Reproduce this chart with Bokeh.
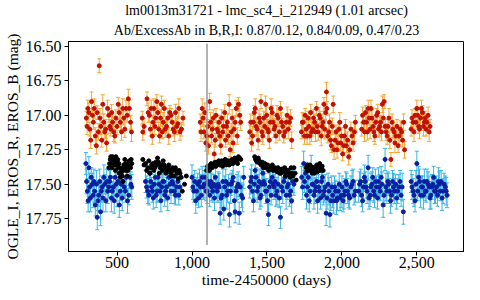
from bokeh.plotting import figure
from bokeh.models import (ColumnDataSource, Whisker, TeeHead, Range1d, FixedTicker,
                          NumeralTickFormatter, Title)
from bokeh.embed import file_html
from bokeh.resources import INLINE

title_line1 = "lm0013m31721 - lmc_sc4_i_212949 (1.01 arcsec)"
title_line2 = "Ab/ExcessAb in B,R,I: 0.87/0.12, 0.84/0.09, 0.47/0.23"
x_label = "time-2450000 (days)"
y_label = "OGLE_I, EROS_R, EROS_B (mag)"
x_ticks = [500, 1000, 1500, 2000, 2500]
y_ticks = [16.50, 16.75, 17.00, 17.25, 17.50, 17.75]
event_day = [1100, 1100]
event_mag = [16.48, 17.94]

# EROS_R (red points, orange error bars)
r_day = [295, 305, 318, 330, 342, 355, 368, 381, 392, 405, 418, 430, 445, 458, 470, 485, 500, 515, 530, 545, 560, 575, 590,
         668, 672, 700, 715, 728, 740, 752, 765, 778, 790, 802, 815, 830, 845, 860, 875, 890, 905, 920, 940,
         1055, 1068, 1080, 1092, 1105, 1118, 1130, 1142, 1155, 1168, 1180, 1192, 1205, 1218, 1230, 1242, 1255, 1268, 1280, 1295, 1310, 1325,
         1385, 1398, 1410, 1422, 1435, 1448, 1460, 1472, 1485, 1498, 1510, 1522, 1535, 1548, 1560, 1575, 1590, 1605, 1620, 1635, 1650, 1665,
         1730, 1742, 1755, 1768, 1780, 1792, 1805, 1818, 1830, 1842, 1855, 1868, 1880, 1892, 1897, 1905, 1918, 1930, 1942, 1955, 1968, 1980, 1992, 2005, 2018, 2030, 2045, 2060, 2075, 2090,
         2132, 2145, 2158, 2170, 2182, 2195, 2208, 2220, 2232, 2245, 2258, 2270, 2282, 2295, 2308, 2320, 2327, 2335, 2348, 2360, 2375, 2390, 2405, 2418,
         2462, 2475, 2488, 2500, 2512, 2525, 2538, 2550, 2562, 2575, 2588,
         300, 312, 324, 336, 348, 362, 375, 386, 398, 411, 424, 437, 452, 464, 478, 492, 508, 522, 538, 552, 568, 582, 596,
         680, 708, 722, 735, 746, 758, 772, 784, 796, 808, 822, 838, 852, 868, 882, 898, 912, 930,
         1060, 1074, 1086, 1098, 1110, 1124, 1136, 1148, 1160, 1174, 1186, 1198, 1210, 1224, 1236, 1248, 1262, 1274, 1288, 1302, 1318,
         1392, 1404, 1416, 1428, 1441, 1454, 1466, 1478, 1491, 1504, 1516, 1528, 1541, 1554, 1567, 1582, 1597, 1612, 1628, 1642, 1658,
         1736, 1750, 1762, 1775, 1786, 1798, 1811, 1824, 1836, 1849, 1862, 1874, 1886, 1900, 1912, 1924, 1936, 1948, 1961, 1974, 1986, 1998, 2012, 2024, 2038, 2052, 2068, 2084,
         2138, 2151, 2164, 2176, 2188, 2201, 2214, 2226, 2239, 2252, 2264, 2276, 2289, 2302, 2314, 2340, 2354, 2368, 2382, 2398, 2412,
         2468, 2481, 2494, 2506, 2518, 2531, 2544, 2556, 2568, 2582]
r_mag = [17.02, 16.95, 17.10, 16.90, 17.05, 17.15, 16.98, 16.64, 17.08, 16.92, 17.12, 17.20, 17.00, 17.10, 17.05, 17.15, 17.08, 16.98, 17.12, 17.02, 16.95, 16.88, 17.05,
         17.02, 17.12, 16.88, 17.00, 16.95, 17.05, 17.08, 16.90, 17.10, 17.02, 17.12, 16.95, 17.08, 17.15, 17.00, 17.10, 16.98, 17.06, 17.12, 17.02,
         17.05, 16.95, 17.12, 17.20, 17.08, 16.90, 17.15, 17.02, 17.18, 17.10, 17.05, 17.22, 17.12, 16.98, 17.08, 17.15, 17.25, 17.02, 17.10, 16.95, 16.92, 17.05,
         17.12, 17.20, 17.05, 16.95, 17.10, 17.02, 16.90, 17.15, 17.08, 17.00, 17.12, 17.05, 16.98, 17.10, 17.15, 17.02, 16.95, 17.08, 17.12, 17.00, 17.05, 17.18,
         17.12, 17.05, 17.00, 17.15, 17.08, 16.98, 17.10, 17.05, 16.95, 17.12, 17.02, 17.08, 16.92, 16.98, 16.83, 17.15, 17.05, 17.22, 16.92, 17.18, 17.25, 17.10, 17.20, 17.28, 17.15, 17.22, 17.30, 17.10, 17.20, 17.05,
         17.10, 17.05, 16.98, 17.12, 17.02, 16.95, 17.08, 17.15, 17.00, 17.10, 17.05, 16.92, 16.90, 17.12, 17.08, 17.18, 17.32, 17.05, 17.12, 17.15, 17.22, 17.10, 17.18, 17.25,
         17.10, 17.05, 17.00, 16.95, 17.08, 17.02, 16.98, 17.05, 17.10, 17.00, 17.08,
         17.08, 16.98, 17.18, 17.00, 16.95, 17.22, 17.12, 17.02, 17.18, 17.05, 17.10, 16.95, 17.08, 16.98, 17.12, 17.02, 16.92, 17.05, 16.95, 17.10, 17.00, 16.95, 17.12,
         17.08, 16.98, 17.10, 17.15, 16.95, 17.02, 16.98, 17.15, 16.92, 17.05, 17.10, 17.02, 16.98, 17.05, 17.12, 17.08, 16.95, 17.10,
         17.12, 17.02, 16.98, 17.15, 17.22, 17.05, 17.10, 17.28, 17.00, 17.12, 17.15, 17.02, 17.08, 17.18, 17.05, 16.92, 17.12, 17.20, 17.05, 17.15, 17.00,
         17.05, 17.15, 16.98, 17.08, 17.18, 17.05, 17.12, 17.02, 16.92, 17.10, 17.18, 16.95, 17.05, 17.08, 17.00, 17.12, 17.05, 17.15, 17.05, 17.10, 17.02,
         17.05, 17.15, 17.10, 17.02, 17.15, 17.12, 17.02, 17.12, 17.08, 17.00, 17.15, 17.05, 17.10, 16.95, 17.12, 17.18, 17.08, 17.25, 17.12, 17.20, 17.05, 17.15, 17.22, 17.08, 17.18, 17.25, 17.15, 17.12,
         17.00, 17.12, 17.05, 16.95, 17.10, 17.02, 17.12, 17.05, 16.98, 17.08, 17.12, 17.02, 17.08, 17.15, 17.02, 17.10, 17.20, 17.08, 17.15, 17.12, 17.05,
         17.02, 17.12, 17.05, 17.00, 17.10, 16.95, 17.08, 17.02, 17.05, 17.12]
r_err = [0.05, 0.06, 0.05, 0.07, 0.05, 0.06, 0.05, 0.05, 0.06, 0.07, 0.05, 0.06, 0.05, 0.05, 0.06, 0.05, 0.06, 0.05, 0.06, 0.05, 0.06, 0.07, 0.05,
         0.05, 0.06, 0.05, 0.05, 0.06, 0.05, 0.06, 0.05, 0.05, 0.06, 0.05, 0.06, 0.05, 0.06, 0.05, 0.05, 0.06, 0.05, 0.06, 0.05,
         0.06, 0.07, 0.05, 0.06, 0.05, 0.06, 0.05, 0.06, 0.05, 0.06, 0.05, 0.06, 0.05, 0.06, 0.05, 0.06, 0.05, 0.06, 0.05, 0.06, 0.05, 0.06,
         0.05, 0.06, 0.05, 0.07, 0.05, 0.06, 0.05, 0.06, 0.05, 0.06, 0.05, 0.06, 0.05, 0.06, 0.05, 0.06, 0.05, 0.06, 0.05, 0.06, 0.05, 0.06,
         0.05, 0.06, 0.05, 0.06, 0.05, 0.06, 0.05, 0.06, 0.05, 0.06, 0.05, 0.06, 0.05, 0.06, 0.07, 0.05, 0.06, 0.05, 0.06, 0.05, 0.06, 0.05, 0.06, 0.05, 0.06, 0.05, 0.06, 0.05, 0.06, 0.05,
         0.05, 0.06, 0.05, 0.06, 0.05, 0.06, 0.05, 0.06, 0.05, 0.06, 0.05, 0.06, 0.05, 0.06, 0.05, 0.06, 0.05, 0.06, 0.05, 0.06, 0.05, 0.06, 0.05, 0.06,
         0.05, 0.06, 0.05, 0.06, 0.05, 0.06, 0.05, 0.06, 0.05, 0.06, 0.05,
         0.06, 0.07, 0.06, 0.05, 0.07, 0.06, 0.06, 0.07, 0.05, 0.06, 0.07, 0.06, 0.05, 0.06, 0.07, 0.06, 0.05, 0.06, 0.07, 0.06, 0.05, 0.06, 0.07,
         0.06, 0.07, 0.05, 0.06, 0.07, 0.06, 0.07, 0.05, 0.06, 0.07, 0.06, 0.07, 0.05, 0.06, 0.07, 0.06, 0.07, 0.05,
         0.07, 0.06, 0.07, 0.05, 0.06, 0.07, 0.06, 0.07, 0.05, 0.06, 0.07, 0.06, 0.07, 0.05, 0.06, 0.07, 0.06, 0.07, 0.05, 0.06, 0.07,
         0.06, 0.07, 0.05, 0.06, 0.07, 0.06, 0.07, 0.05, 0.06, 0.07, 0.06, 0.07, 0.05, 0.06, 0.07, 0.06, 0.07, 0.05, 0.06, 0.07, 0.06,
         0.07, 0.06, 0.07, 0.05, 0.06, 0.07, 0.06, 0.07, 0.05, 0.06, 0.07, 0.06, 0.07, 0.05, 0.06, 0.07, 0.06, 0.07, 0.05, 0.06, 0.07, 0.06, 0.07, 0.05, 0.06, 0.07, 0.06, 0.07,
         0.06, 0.07, 0.05, 0.06, 0.07, 0.06, 0.07, 0.05, 0.06, 0.07, 0.06, 0.07, 0.05, 0.06, 0.07, 0.06, 0.07, 0.05, 0.06, 0.07, 0.06,
         0.06, 0.07, 0.05, 0.06, 0.07, 0.06, 0.07, 0.05, 0.06, 0.07]

# EROS_B (dark blue points, light blue error bars)
b_day = [292, 302, 312, 322, 335, 345, 355, 368, 378, 390, 400, 412, 425, 438, 450, 462, 475, 488, 500, 515, 528, 540, 555, 570, 585, 598,
         690, 705, 718, 730, 742, 755, 768, 780, 792, 805, 818, 830, 845, 860, 875, 890, 905, 920,
         1000, 1012, 1025, 1038, 1050, 1062, 1075, 1088, 1100, 1112, 1125, 1138, 1150, 1162, 1175, 1188, 1200, 1212, 1225, 1238, 1250, 1262, 1275, 1288, 1300, 1315, 1330, 1345,
         1385, 1398, 1410, 1422, 1435, 1448, 1460, 1472, 1485, 1498, 1510, 1522, 1535, 1548, 1560, 1575, 1590, 1605, 1620, 1635, 1650, 1665, 1680,
         1732, 1745, 1758, 1770, 1782, 1795, 1808, 1820, 1832, 1845, 1858, 1870, 1882, 1895, 1908, 1920, 1932, 1945, 1958, 1970, 1982, 1995, 2008, 2020, 2032, 2045, 2060, 2075, 2090,
         2112, 2125, 2138, 2150, 2162, 2175, 2188, 2200, 2212, 2225, 2238, 2250, 2262, 2275, 2288, 2300, 2312, 2325, 2338, 2350, 2365, 2380, 2395, 2410,
         2462, 2475, 2488, 2500, 2512, 2525, 2538, 2550, 2562, 2575, 2588, 2600, 2612, 2625, 2638, 2650, 2662, 2675, 2690, 2702,
         297, 307, 317, 328, 340, 350, 362, 373, 384, 395, 406, 418, 431, 444, 456, 468, 481, 494, 507, 521, 534, 548, 562, 578, 592,
         697, 712, 724, 736, 748, 761, 774, 786, 798, 812, 824, 838, 852, 868, 882, 898, 912,
         1006, 1018, 1031, 1044, 1056, 1068, 1081, 1094, 1106, 1118, 1131, 1144, 1156, 1168, 1181, 1194, 1206, 1218, 1231, 1244, 1256, 1269, 1282, 1294, 1308, 1322, 1338,
         1392, 1404, 1416, 1428, 1441, 1454, 1466, 1478, 1491, 1504, 1516, 1528, 1541, 1554, 1567, 1582, 1597, 1612, 1628, 1642, 1658, 1672,
         1738, 1751, 1764, 1776, 1788, 1801, 1814, 1826, 1838, 1851, 1864, 1876, 1888, 1901, 1914, 1926, 1938, 1951, 1964, 1976, 1988, 2001, 2014, 2026, 2038, 2052, 2068, 2082,
         2118, 2131, 2144, 2156, 2168, 2181, 2194, 2206, 2218, 2231, 2244, 2256, 2268, 2281, 2294, 2306, 2318, 2331, 2344, 2358, 2372, 2388, 2402,
         2468, 2481, 2494, 2506, 2518, 2531, 2544, 2556, 2568, 2582, 2594, 2606, 2618, 2631, 2644, 2656, 2668, 2682, 2696]
b_mag = [17.35, 17.55, 17.38, 17.60, 17.50, 17.48, 17.65, 17.74, 17.58, 17.70, 17.52, 17.45, 17.62, 17.55, 17.48, 17.60, 17.52, 17.45, 17.58, 17.65, 17.50, 17.48, 17.55, 17.62, 17.45, 17.52,
         17.48, 17.55, 17.42, 17.52, 17.60, 17.45, 17.55, 17.50, 17.62, 17.48, 17.58, 17.52, 17.45, 17.55, 17.50, 17.58, 17.48, 17.52,
         17.45, 17.55, 17.62, 17.50, 17.48, 17.58, 17.52, 17.45, 17.55, 17.50, 17.48, 17.55, 17.60, 17.52, 17.50, 17.71, 17.58, 17.68, 17.48, 17.55, 17.72, 17.50, 17.45, 17.70, 17.52, 17.71, 17.58, 17.45,
         17.52, 17.45, 17.62, 17.40, 17.55, 17.48, 17.58, 17.42, 17.50, 17.55, 17.72, 17.48, 17.45, 17.52, 17.58, 17.50, 17.74, 17.55, 17.45, 17.52, 17.58, 17.62, 17.50,
         17.45, 17.35, 17.42, 17.52, 17.62, 17.38, 17.50, 17.55, 17.48, 17.52, 17.60, 17.45, 17.55, 17.71, 17.50, 17.72, 17.52, 17.62, 17.55, 17.60, 17.50, 17.58, 17.62, 17.55, 17.50, 17.58, 17.52, 17.48, 17.55,
         17.55, 17.48, 17.62, 17.45, 17.52, 17.38, 17.58, 17.50, 17.55, 17.48, 17.60, 17.52, 17.45, 17.65, 17.32, 17.55, 17.50, 17.62, 17.48, 17.55, 17.60, 17.52, 17.58, 17.70,
         17.48, 17.55, 17.62, 17.35, 17.45, 17.58, 17.52, 17.48, 17.55, 17.50, 17.60, 17.52, 17.45, 17.55, 17.58, 17.50, 17.48, 17.55, 17.52, 17.58,
         17.48, 17.62, 17.52, 17.45, 17.58, 17.55, 17.50, 17.62, 17.48, 17.55, 17.60, 17.50, 17.48, 17.52, 17.45, 17.55, 17.62, 17.50, 17.48, 17.55, 17.60, 17.52, 17.45, 17.58, 17.50,
         17.52, 17.58, 17.48, 17.55, 17.50, 17.58, 17.45, 17.55, 17.52, 17.48, 17.55, 17.60, 17.50, 17.48, 17.55, 17.52, 17.58,
         17.52, 17.48, 17.55, 17.60, 17.52, 17.45, 17.50, 17.55, 17.48, 17.58, 17.52, 17.50, 17.45, 17.55, 17.52, 17.60, 17.48, 17.52, 17.58, 17.50, 17.55, 17.48, 17.62, 17.55, 17.50, 17.52, 17.60,
         17.48, 17.55, 17.50, 17.45, 17.52, 17.60, 17.50, 17.48, 17.55, 17.62, 17.52, 17.58, 17.50, 17.48, 17.55, 17.60, 17.52, 17.48, 17.58, 17.50, 17.55, 17.48,
         17.52, 17.48, 17.58, 17.45, 17.55, 17.50, 17.58, 17.52, 17.62, 17.55, 17.48, 17.58, 17.52, 17.60, 17.55, 17.62, 17.58, 17.52, 17.62, 17.55, 17.60, 17.52, 17.58, 17.48, 17.55, 17.60, 17.50, 17.58,
         17.50, 17.58, 17.52, 17.48, 17.55, 17.60, 17.52, 17.45, 17.58, 17.52, 17.48, 17.55, 17.50, 17.58, 17.52, 17.48, 17.55, 17.58, 17.52, 17.50, 17.55, 17.48, 17.52,
         17.52, 17.58, 17.50, 17.55, 17.48, 17.52, 17.58, 17.55, 17.48, 17.52, 17.58, 17.50, 17.55, 17.52, 17.48, 17.55, 17.60, 17.50, 17.55]
b_err = [0.08, 0.09, 0.08, 0.10, 0.08, 0.09, 0.08, 0.09, 0.08, 0.10, 0.08, 0.09, 0.08, 0.09, 0.08, 0.10, 0.08, 0.09, 0.08, 0.09, 0.08, 0.10, 0.08, 0.09, 0.08, 0.09,
         0.08, 0.09, 0.08, 0.07, 0.08, 0.09, 0.08, 0.07, 0.08, 0.09, 0.08, 0.07, 0.08, 0.09, 0.08, 0.07, 0.08, 0.09,
         0.09, 0.08, 0.09, 0.08, 0.09, 0.08, 0.09, 0.08, 0.09, 0.08, 0.09, 0.08, 0.09, 0.08, 0.09, 0.08, 0.09, 0.08, 0.09, 0.08, 0.09, 0.08, 0.09, 0.08, 0.09, 0.08, 0.09, 0.08,
         0.08, 0.09, 0.08, 0.09, 0.08, 0.09, 0.08, 0.09, 0.08, 0.09, 0.08, 0.09, 0.08, 0.09, 0.08, 0.09, 0.08, 0.09, 0.08, 0.09, 0.08, 0.09, 0.08,
         0.08, 0.09, 0.08, 0.09, 0.08, 0.09, 0.08, 0.09, 0.08, 0.09, 0.08, 0.09, 0.08, 0.09, 0.08, 0.09, 0.08, 0.09, 0.08, 0.09, 0.08, 0.09, 0.08, 0.09, 0.08, 0.09, 0.08, 0.09, 0.08,
         0.08, 0.09, 0.08, 0.09, 0.08, 0.09, 0.08, 0.09, 0.08, 0.09, 0.08, 0.09, 0.08, 0.09, 0.08, 0.09, 0.08, 0.09, 0.08, 0.09, 0.08, 0.09, 0.08, 0.09,
         0.08, 0.09, 0.08, 0.09, 0.08, 0.09, 0.08, 0.09, 0.08, 0.09, 0.08, 0.09, 0.08, 0.09, 0.08, 0.09, 0.08, 0.09, 0.08, 0.09,
         0.09, 0.08, 0.10, 0.07, 0.09, 0.08, 0.10, 0.07, 0.09, 0.08, 0.10, 0.07, 0.09, 0.08, 0.10, 0.07, 0.09, 0.08, 0.10, 0.07, 0.09, 0.08, 0.10, 0.07, 0.09,
         0.08, 0.07, 0.09, 0.08, 0.07, 0.09, 0.08, 0.07, 0.09, 0.08, 0.07, 0.09, 0.08, 0.07, 0.09, 0.08, 0.07,
         0.09, 0.08, 0.10, 0.07, 0.09, 0.08, 0.10, 0.07, 0.09, 0.08, 0.10, 0.07, 0.09, 0.08, 0.10, 0.07, 0.09, 0.08, 0.10, 0.07, 0.09, 0.08, 0.10, 0.07, 0.09, 0.08, 0.10,
         0.09, 0.08, 0.10, 0.07, 0.09, 0.08, 0.10, 0.07, 0.09, 0.08, 0.10, 0.07, 0.09, 0.08, 0.10, 0.07, 0.09, 0.08, 0.10, 0.07, 0.09, 0.08,
         0.09, 0.08, 0.10, 0.07, 0.09, 0.08, 0.10, 0.07, 0.09, 0.08, 0.10, 0.07, 0.09, 0.08, 0.10, 0.07, 0.09, 0.08, 0.10, 0.07, 0.09, 0.08, 0.10, 0.07, 0.09, 0.08, 0.10, 0.07,
         0.09, 0.08, 0.10, 0.07, 0.09, 0.08, 0.10, 0.07, 0.09, 0.08, 0.10, 0.07, 0.09, 0.08, 0.10, 0.07, 0.09, 0.08, 0.10, 0.07, 0.09, 0.08, 0.10,
         0.09, 0.08, 0.10, 0.07, 0.09, 0.08, 0.10, 0.07, 0.09, 0.08, 0.10, 0.07, 0.09, 0.08, 0.10, 0.07, 0.09, 0.08, 0.10]

# OGLE_I (black points)
i_day = [445, 455, 462, 470, 478, 485, 492, 500, 508, 515, 522, 530, 538, 545, 552, 560, 568, 575, 582, 590, 598,
         672, 690, 705, 720, 732, 745, 758, 770, 782, 795, 808, 820, 832, 845, 858, 870, 882, 895, 908, 920, 935, 950, 962,
         1098, 1110, 1122, 1135, 1148, 1160, 1172, 1185, 1198, 1210, 1222, 1235, 1248, 1260, 1272, 1285, 1298, 1310, 1325,
         1418, 1430, 1442, 1455, 1468, 1480, 1492, 1505, 1518, 1530, 1542, 1555, 1568, 1580, 1592, 1605, 1618, 1630, 1642, 1655, 1668, 1680, 1695,
         1762, 1772, 1782, 1792, 1802, 1812, 1822, 1832, 1842, 1852, 1862, 1875,
         450, 458, 466, 474, 482, 489, 496, 504, 512, 519, 526, 534, 542, 549, 556, 564, 572, 579, 586, 594,
         680, 698, 712, 726, 739, 752, 764, 776, 789, 802, 814, 826, 839, 852, 864, 876, 889, 902, 914, 928,
         1104, 1116, 1128, 1141, 1154, 1166, 1178, 1191, 1204, 1216, 1228, 1241, 1254, 1266, 1278, 1291, 1304, 1318,
         1424, 1436, 1448, 1461, 1474, 1486, 1498, 1511, 1524, 1536, 1548, 1561, 1574, 1586, 1598, 1611, 1624, 1636, 1648, 1661, 1674, 1688,
         1767, 1777, 1787, 1797, 1807, 1817, 1827, 1837, 1847, 1857, 1868]
i_mag = [17.38, 17.32, 17.35, 17.30, 17.33, 17.36, 17.30, 17.34, 17.38, 17.42, 17.45, 17.40, 17.48, 17.36, 17.32, 17.40, 17.44, 17.36, 17.33, 17.38, 17.35,
         17.32, 17.35, 17.38, 17.42, 17.36, 17.40, 17.34, 17.31, 17.42, 17.36, 17.33, 17.38, 17.40, 17.36, 17.42, 17.38, 17.44, 17.40, 17.46, 17.42, 17.55, 17.50, 17.44,
         17.40, 17.38, 17.36, 17.38, 17.35, 17.37, 17.34, 17.36, 17.33, 17.35, 17.32, 17.34, 17.36, 17.33, 17.35, 17.31, 17.33, 17.30, 17.32,
         17.30, 17.33, 17.31, 17.35, 17.34, 17.36, 17.38, 17.36, 17.39, 17.37, 17.40, 17.38, 17.41, 17.39, 17.42, 17.40, 17.38, 17.43, 17.40, 17.45, 17.42, 17.38, 17.47,
         17.38, 17.36, 17.40, 17.37, 17.42, 17.38, 17.40, 17.36, 17.39, 17.35, 17.38, 17.40,
         17.35, 17.30, 17.38, 17.34, 17.31, 17.40, 17.36, 17.32, 17.35, 17.38, 17.42, 17.44, 17.40, 17.38, 17.35, 17.37, 17.40, 17.34, 17.36, 17.32,
         17.36, 17.40, 17.33, 17.38, 17.35, 17.38, 17.36, 17.34, 17.38, 17.40, 17.36, 17.42, 17.38, 17.40, 17.44, 17.40, 17.38, 17.42, 17.40, 17.45,
         17.37, 17.40, 17.35, 17.37, 17.34, 17.36, 17.33, 17.35, 17.37, 17.34, 17.36, 17.33, 17.35, 17.32, 17.34, 17.32, 17.35, 17.31,
         17.32, 17.34, 17.33, 17.36, 17.38, 17.35, 17.37, 17.40, 17.38, 17.36, 17.39, 17.40, 17.38, 17.42, 17.39, 17.41, 17.44, 17.40, 17.42, 17.38, 17.44, 17.42,
         17.40, 17.38, 17.36, 17.40, 17.38, 17.42, 17.38, 17.41, 17.38, 17.40, 17.37]


def trim(*cols):
    n = min(len(c) for c in cols)
    return [list(c[:n]) for c in cols]


r_day, r_mag, r_err = trim(r_day, r_mag, r_err)
b_day, b_mag, b_err = trim(b_day, b_mag, b_err)
i_day, i_mag = trim(i_day, i_mag)

red_src = ColumnDataSource(dict(x=r_day, y=r_mag,
                                lo=[m - e for m, e in zip(r_mag, r_err)],
                                hi=[m + e for m, e in zip(r_mag, r_err)]))
blue_src = ColumnDataSource(dict(x=b_day, y=b_mag,
                                 lo=[m - e for m, e in zip(b_mag, b_err)],
                                 hi=[m + e for m, e in zip(b_mag, b_err)]))
black_src = ColumnDataSource(dict(x=i_day, y=i_mag))

FONT = "Liberation Serif"

p = figure(width=464, height=292, output_backend="svg", toolbar_location=None,
           x_range=Range1d(176, 2818), y_range=Range1d(17.988, 16.464),
           min_border_left=65, min_border_right=0, min_border_top=0, min_border_bottom=41)

p.add_layout(Title(text=title_line2, align="center", text_font=FONT, text_font_size="14px",
                   text_font_style="normal", text_color="black", standoff=7, offset=0), "above")
p.add_layout(Title(text=title_line1, align="center", text_font=FONT, text_font_size="14px",
                   text_font_style="normal", text_color="black", standoff=0, offset=0), "above")

p.grid.visible = False
p.outline_line_color = "black"
p.outline_line_width = 1
p.background_fill_color = "white"
p.border_fill_color = "white"

for ax in (p.xaxis[0], p.yaxis[0]):
    ax.axis_line_color = "black"
    ax.major_tick_line_color = "black"
    ax.major_tick_out = 4
    ax.major_tick_in = 0
    ax.minor_tick_line_color = None
    ax.major_label_text_font = FONT
    ax.major_label_text_font_size = "16px"
    ax.major_label_text_color = "black"
    ax.major_label_text_line_height = 1.0
    ax.axis_label_text_font = FONT
    ax.axis_label_text_font_size = "15.5px"
    ax.axis_label_text_font_style = "normal"
    ax.axis_label_text_color = "black"
    ax.axis_label_text_line_height = 1.0

p.xaxis.ticker = FixedTicker(ticks=x_ticks)
p.yaxis.ticker = FixedTicker(ticks=y_ticks)
p.xaxis.formatter = NumeralTickFormatter(format="0,0")
p.yaxis.formatter = NumeralTickFormatter(format="0.00")
p.xaxis.axis_label = x_label
p.yaxis.axis_label = y_label
p.xaxis.major_label_standoff = 1
p.yaxis.major_label_standoff = 3
p.xaxis.axis_label_standoff = 0
p.yaxis.axis_label_standoff = 2

ORANGE = "#f8a431"
DARKRED = "#c01000"
LIGHTBLUE = "#39b4e6"
DARKBLUE = "#0a1fa0"

p.add_layout(Whisker(source=red_src, base="x", lower="lo", upper="hi", line_color=ORANGE, line_width=1,
                     lower_head=TeeHead(size=4, line_color=ORANGE, line_width=1),
                     upper_head=TeeHead(size=4, line_color=ORANGE, line_width=1)))
p.scatter("x", "y", source=red_src, size=4, fill_color=DARKRED, line_color=DARKRED)

p.add_layout(Whisker(source=blue_src, base="x", lower="lo", upper="hi", line_color=LIGHTBLUE, line_width=1,
                     lower_head=TeeHead(size=4, line_color=LIGHTBLUE, line_width=1),
                     upper_head=TeeHead(size=4, line_color=LIGHTBLUE, line_width=1)))
p.scatter("x", "y", source=blue_src, size=4, fill_color=DARKBLUE, line_color=DARKBLUE)

p.scatter("x", "y", source=black_src, size=4, fill_color="black", line_color="black")

p.line(event_day, event_mag, line_color="#999999", line_width=1.5)

open("out.html", "w").write(file_html(p, INLINE))
